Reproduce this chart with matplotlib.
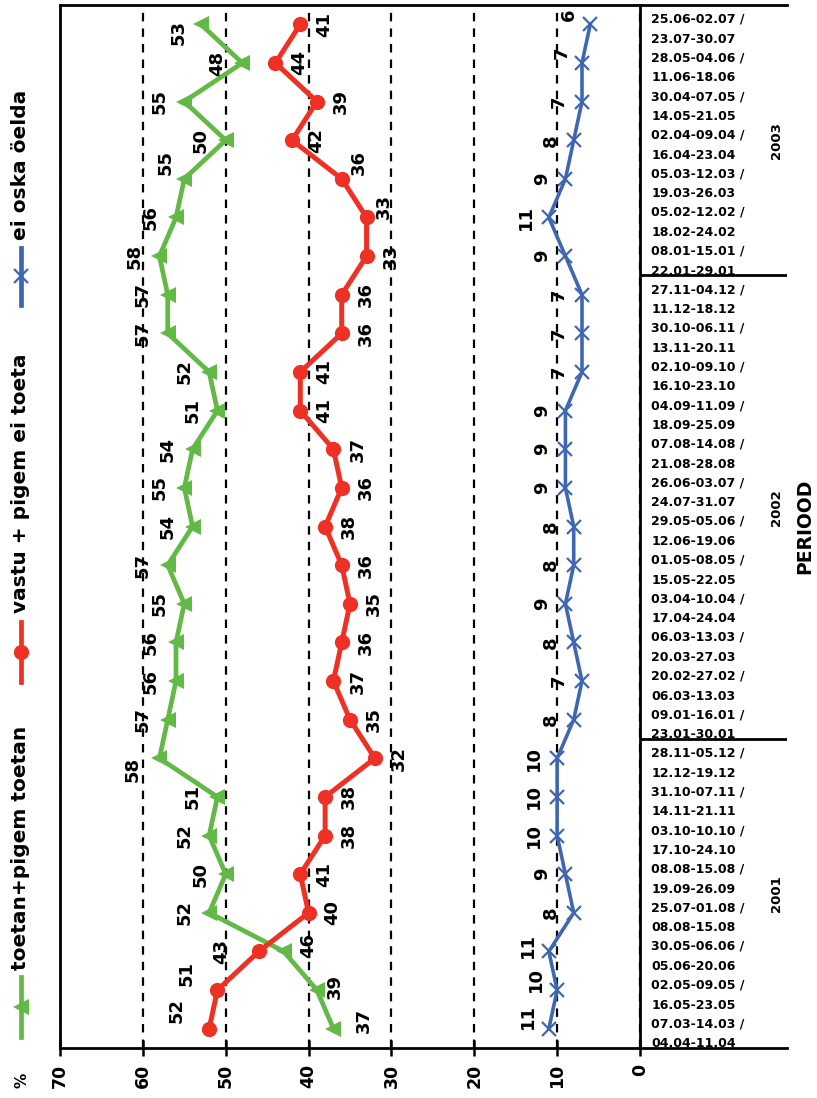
import numpy as np
import matplotlib.pyplot as plt
from matplotlib.lines import Line2D

# survey periods, one point per pair of weeks (bottom -> top in the picture)
periods = [
    "07.03-14.03 /\n04.04-11.04", "02.05-09.05 /\n16.05-23.05",
    "30.05-06.06 /\n05.06-20.06", "25.07-01.08 /\n08.08-15.08",
    "08.08-15.08 /\n19.09-26.09", "03.10-10.10 /\n17.10-24.10",
    "31.10-07.11 /\n14.11-21.11", "28.11-05.12 /\n12.12-19.12",
    "09.01-16.01 /\n23.01-30.01", "20.02-27.02 /\n06.03-13.03",
    "06.03-13.03 /\n20.03-27.03", "03.04-10.04 /\n17.04-24.04",
    "01.05-08.05 /\n15.05-22.05", "29.05-05.06 /\n12.06-19.06",
    "26.06-03.07 /\n24.07-31.07", "07.08-14.08 /\n21.08-28.08",
    "04.09-11.09 /\n18.09-25.09", "02.10-09.10 /\n16.10-23.10",
    "30.10-06.11 /\n13.11-20.11", "27.11-04.12 /\n11.12-18.12",
    "08.01-15.01 /\n22.01-29.01", "05.02-12.02 /\n18.02-24.02",
    "05.03-12.03 /\n19.03-26.03", "02.04-09.04 /\n16.04-23.04",
    "30.04-07.05 /\n14.05-21.05", "28.05-04.06 /\n11.06-18.06",
    "25.06-02.07 /\n23.07-30.07",
]
years = ["2001", "2002", "2003"]
year_counts = [8, 12, 7]

support = [37, 39, 43, 52, 50, 52, 51, 58,
           57, 56, 56, 55, 57, 54, 55, 54, 51, 52, 57, 57,
           58, 56, 55, 50, 55, 48, 53]
against = [52, 51, 46, 40, 41, 38, 38, 32,
           35, 37, 36, 35, 36, 38, 36, 37, 41, 41, 36, 36,
           33, 33, 36, 42, 39, 44, 41]
dont_know = [11, 10, 11, 8, 9, 10, 10, 10,
             8, 7, 8, 9, 8, 8, 9, 9, 9, 7, 7, 7,
             9, 11, 9, 8, 7, 7, 6]

names = ["toetan+pigem toetan", "vastu + pigem ei toeta", "ei oska öelda"]
value_ticks = [0, 10, 20, 30, 40, 50, 60, 70]

GREEN = '#62b946'
RED = '#ee3124'
BLUE = '#3f67b1'

W, H = 817, 1098
fig = plt.figure(figsize=(W / 100, H / 100), dpi=100)
plt.rcParams['font.family'] = 'DejaVu Sans'

def fx(x):
    return x / W

def fy(y):
    return 1 - y / H

# chart is drawn turned a quarter: values run right -> left, periods bottom -> top
ax = fig.add_axes([fx(60), fy(1048), fx(640) - fx(60), fy(5) - fy(1048)])
pos = np.arange(len(periods))

ax.plot(support, pos, color=GREEN, lw=3.4, marker='<', ms=11, mew=0, zorder=3)
ax.plot(against, pos, color=RED, lw=3.6, marker='o', ms=11, mew=0, zorder=3)
ax.plot(dont_know, pos, color=BLUE, lw=2.6, marker='x', ms=10, mew=1.6, zorder=3)

ax.set_xlim(70, 0)
ax.set_ylim(-0.5, len(periods) - 0.5)

# data labels (image pixel offsets: right, down)
label_style = [
    (support, (-25, 0), {0: (30, -8), 1: (18, -4), 2: (-63, 0), 7: (-27, 11),
                         22: (-19, -16), 26: (-22, 8)}),
    (against, (24, 0), {0: (-33, -18), 1: (-31, -17), 2: (49, -6),
                        21: (17, -11), 22: (17, -16)}),
    (dont_know, (-23, 0), {0: (-21, -12), 1: (-21, -11), 2: (-21, -6),
                           25: (-20, -10), 26: (-21, -10)}),
]
for vals, default, special in label_style:
    for i, v in enumerate(vals):
        dx, dy = special.get(i, default)
        ax.annotate(str(v), (v, i), xytext=(dx, -dy), textcoords='offset pixels',
                    rotation=90, ha='center', va='center', fontsize=13,
                    fontweight='bold', zorder=4)

ax.grid(axis='x', color='black', lw=1.6, linestyle=(0, (3.8, 3.2)))
ax.set_axisbelow(True)
ax.set_xticks(value_ticks)
ax.set_xticklabels([str(t) for t in value_ticks], rotation=90,
                   fontsize=12.5, fontweight='bold')
ax.tick_params(axis='x', direction='inout', length=11, width=1.8, pad=6)

ax.set_yticks(pos)
ax.set_yticklabels(periods, fontsize=9, fontweight='bold', linespacing=1.7)
ax.yaxis.tick_right()
ax.tick_params(axis='y', length=0, pad=8)

for s in ax.spines.values():
    s.set_linewidth(2)

# period / year panel
ax2 = fig.add_axes([fx(640), fy(1048), fx(787) - fx(640), fy(5) - fy(1048)], sharey=ax)
ax2.set_xlim(0, 1)
ax2.patch.set_alpha(0)
ax2.tick_params(left=False, labelleft=False, right=False, labelright=False,
                bottom=False, labelbottom=False)
ax2.spines['left'].set_visible(False)
ax2.spines['right'].set_visible(False)
ax2.spines['top'].set_linewidth(2)
ax2.spines['bottom'].set_linewidth(2)

start = 0
for yr, n in zip(years, year_counts):
    ax2.text(0.93, start + (n - 1) / 2, yr, rotation=90, ha='center', va='center',
             fontsize=9.5, fontweight='bold')
    if start + n < len(periods):
        ax2.axhline(start + n - 0.5, color='black', lw=2)
    start += n

ax2.text(1.12, 0.5, 'PERIOOD', transform=ax2.transAxes, rotation=90,
         ha='center', va='center', fontsize=13.5, fontweight='bold', clip_on=False)

# legend, turned along the left edge
legend_items = [
    (names[0], GREEN, '<', 11, 0, 1037, 977, 970),
    (names[1], RED, 'o', 11, 0, 682, 622, 613),
    (names[2], BLUE, 'x', 10, 1.6, 305, 248, 240),
]
for name, col, mk, ms, mew, y0, y1, ty in legend_items:
    fig.add_artist(Line2D([fx(21), fx(21)], [fy(y0), fy(y1)], color=col, lw=3.4))
    fig.add_artist(Line2D([fx(21)], [fy((y0 + y1) / 2)], color=col, marker=mk,
                          ms=ms, mew=mew, lw=0))
    fig.text(fx(21), fy(ty), name, rotation=90, ha='center', va='bottom',
             fontsize=14.5, fontweight='bold')

fig.text(fx(22), fy(1080), '%', rotation=90, ha='center', va='center',
         fontsize=11, fontweight='bold')

fig.savefig('out.png', dpi=100)
